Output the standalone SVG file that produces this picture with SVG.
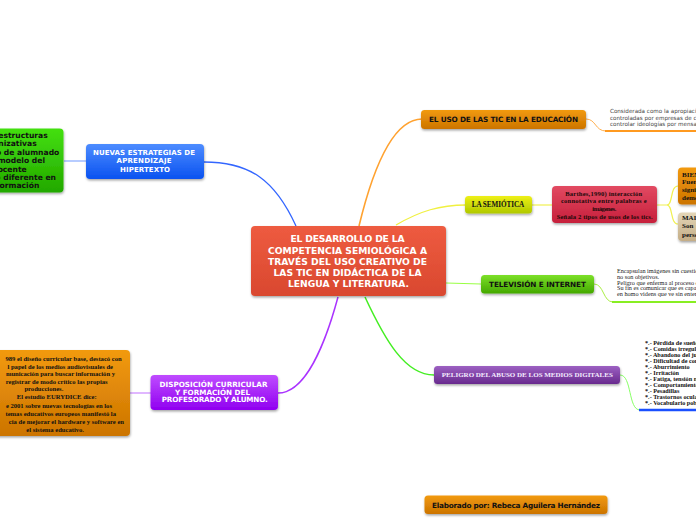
<svg xmlns="http://www.w3.org/2000/svg" width="696" height="520" viewBox="0 0 696 520">
<defs>
<filter id="sh" x="-10%" y="-20%" width="120%" height="150%">
<feDropShadow dx="0.5" dy="1.5" stdDeviation="1.2" flood-color="#000" flood-opacity="0.35"/>
</filter>
<linearGradient id="gRed" x1="0" y1="0" x2="0" y2="1"><stop offset="0" stop-color="#ee5b40"/><stop offset="1" stop-color="#d9482f"/></linearGradient>
<linearGradient id="gBlue" x1="0" y1="0" x2="0" y2="1"><stop offset="0" stop-color="#4d8cff"/><stop offset="1" stop-color="#0a52f0"/></linearGradient>
<linearGradient id="gGreenL" x1="0" y1="0" x2="0" y2="1"><stop offset="0" stop-color="#44e010"/><stop offset="1" stop-color="#22a800"/></linearGradient>
<linearGradient id="gOrange" x1="0" y1="0" x2="0" y2="1"><stop offset="0" stop-color="#f29a10"/><stop offset="1" stop-color="#cc7400"/></linearGradient>
<linearGradient id="gYellow" x1="0" y1="0" x2="0" y2="1"><stop offset="0" stop-color="#eef015"/><stop offset="1" stop-color="#b0c800"/></linearGradient>
<linearGradient id="gCrimson" x1="0" y1="0" x2="0" y2="1"><stop offset="0" stop-color="#e24a62"/><stop offset="1" stop-color="#c61f3b"/></linearGradient>
<linearGradient id="gTan" x1="0" y1="0" x2="0" y2="1"><stop offset="0" stop-color="#e4d6b8"/><stop offset="1" stop-color="#c4ad86"/></linearGradient>
<linearGradient id="gTV" x1="0" y1="0" x2="0" y2="1"><stop offset="0" stop-color="#7ce028"/><stop offset="1" stop-color="#44a800"/></linearGradient>
<linearGradient id="gPurple" x1="0" y1="0" x2="0" y2="1"><stop offset="0" stop-color="#9c60c2"/><stop offset="1" stop-color="#682a8e"/></linearGradient>
<linearGradient id="gViolet" x1="0" y1="0" x2="0" y2="1"><stop offset="0" stop-color="#bf4cff"/><stop offset="1" stop-color="#9000f0"/></linearGradient>
</defs>
<style>
.box{filter:url(#sh);}
.sans{font-family:"DejaVu Sans","Verdana",sans-serif;font-weight:bold;}
.serif{font-family:"Liberation Serif","Times New Roman",serif;font-weight:bold;}
.w{fill:#ffffff;}
.k{fill:#111111;}
.c{text-anchor:middle;}
.e{text-anchor:end;}
.note{font-family:"DejaVu Sans","Verdana",sans-serif;font-size:5.6px;fill:#444444;}
.snote{font-family:"Liberation Serif","Times New Roman",serif;font-size:6.2px;fill:#222222;}
.list{font-family:"Liberation Serif","Times New Roman",serif;font-weight:bold;font-size:6.2px;fill:#111111;}
.ln{fill:none;}
</style>
<rect width="696" height="520" fill="#ffffff"/>

<g id="connectors">
<path class="ln" d="M296,226 C275,180 250,162 204,162" stroke="#3366ff" stroke-width="1.3"/>
<path class="ln" d="M64,161 L86,161" stroke="#88aaff" stroke-width="1.2"/>
<path class="ln" d="M359,226 C375,160 395,119 422,119" stroke="#ffa230" stroke-width="1.6"/>
<path class="ln" d="M396,225 C420,211 440,205 466,205" stroke="#f0f040" stroke-width="1.3"/>
<path class="ln" d="M532,205 L552,205" stroke="#f0f050" stroke-width="1.2"/>
<path class="ln" d="M657,205 L667,205 C673,205 670,186 678,186" stroke="#f0f050" stroke-width="1.2"/>
<path class="ln" d="M667,205 C673,205 670,224 678,224" stroke="#f0f050" stroke-width="1.2"/>
<path class="ln" d="M446,283 L481,284" stroke="#99ff44" stroke-width="1.2"/>
<path class="ln" d="M365,297 C385,340 405,375 434,375" stroke="#44ee22" stroke-width="1.5"/>
<path class="ln" d="M338,297 C325,345 305,393 278,393" stroke="#aa33ff" stroke-width="1.5"/>
<path class="ln" d="M130,393 L151,393" stroke="#cc88ff" stroke-width="1.2"/>
<path class="ln" d="M586,119 C596,119 595,131 606,131" stroke="#ffb050" stroke-width="1"/>
<path class="ln" d="M605,131 L696,131" stroke="#ff9a20" stroke-width="2"/>
<path class="ln" d="M594,284 C604,284 603,302 613,302" stroke="#aaee44" stroke-width="1"/>
<path class="ln" d="M612,302 L696,302" stroke="#88ee22" stroke-width="2"/>
<path class="ln" d="M620,375 C632,375 628,410 640,410" stroke="#88ff66" stroke-width="1"/>
<path class="ln" d="M639,410 L696,410" stroke="#1a4fff" stroke-width="2.5"/>
</g>

<g id="node-center">
<rect class="box" x="251" y="226" width="195" height="70" rx="4" fill="url(#gRed)"/>
<text class="sans w c" font-size="9.2" x="347.5" y="242" textLength="114">EL DESARROLLO DE LA</text>
<text class="sans w c" font-size="9.2" x="347.5" y="253.5" textLength="159">COMPETENCIA SEMIOLÓGICA A</text>
<text class="sans w c" font-size="9.2" x="347.5" y="265" textLength="159">TRAVÉS DEL USO CREATIVO DE</text>
<text class="sans w c" font-size="9.2" x="347.5" y="276" textLength="148">LAS TIC EN DIDÁCTICA DE LA</text>
<text class="sans w c" font-size="9.2" x="348.5" y="287" textLength="121">LENGUA Y LITERATURA.</text>
</g>

<g id="node-nuevas">
<rect class="box" x="86" y="144" width="118" height="35" rx="4" fill="url(#gBlue)"/>
<text class="sans w c" font-size="7" x="144" y="155" textLength="102">NUEVAS ESTRATEGIAS DE</text>
<text class="sans w c" font-size="7" x="144" y="163.3" textLength="55">APRENDIZAJE</text>
<text class="sans w c" font-size="7" x="145" y="171.7" textLength="50">HIPERTEXTO</text>
</g>

<g id="node-estructuras">
<rect class="box" x="-40" y="128.5" width="103.5" height="64" rx="4" fill="url(#gGreenL)"/>
<text class="sans k e" font-size="7.6" x="47.7" y="137.5">s estructuras</text>
<text class="sans k e" font-size="7.6" x="36.7" y="146">anizativas</text>
<text class="sans k e" font-size="7.6" x="59.3" y="155">po de alumnado</text>
<text class="sans k e" font-size="7.6" x="45" y="163.3">modelo del</text>
<text class="sans k e" font-size="7.6" x="26.7" y="171.7">ocente</text>
<text class="sans k e" font-size="7.6" x="56" y="180">io diferente en</text>
<text class="sans k e" font-size="7.6" x="39.3" y="188.3">formación</text>
</g>

<g id="node-uso">
<rect class="box" x="421" y="110" width="165" height="19" rx="3.5" fill="url(#gOrange)"/>
<text class="sans k c" font-size="7.3" x="503.5" y="122" textLength="149">EL USO DE LAS TIC EN LA EDUCACIÓN</text>
</g>

<g id="node-uso-nota">
<text class="note" x="610" y="113">Considerada como la apropiació</text>
<text class="note" x="610" y="119.5">controladas por empresas de c</text>
<text class="note" x="610" y="126">controlar ideologías por mensaj</text>
</g>

<g id="node-semiotica">
<rect class="box" x="465" y="196" width="67" height="17.5" rx="3.5" fill="url(#gYellow)"/>
<text class="serif k c" font-size="7.2" x="498" y="206.8" textLength="52.6">LA SEMIÓTICA</text>
</g>

<g id="node-barthes">
<rect class="box" x="552" y="186" width="105" height="37" rx="4" fill="url(#gCrimson)"/>
<text class="serif c" fill="#1a0a0a" font-size="6.6" x="603.7" y="195.7" textLength="77">Barthes,1990) interacción</text>
<text class="serif c" fill="#1a0a0a" font-size="6.6" x="603.8" y="203.3" textLength="85.7">connotativa entre palabras e</text>
<text class="serif c" fill="#1a0a0a" font-size="6.6" x="604.3" y="211" textLength="24">imágenes.</text>
<text class="serif c" fill="#1a0a0a" font-size="6.6" x="604.7" y="219.3" textLength="96">Señala 2 tipos de usos de los tics.</text>
</g>

<g id="node-bien">
<rect class="box" x="678" y="167.5" width="30" height="37" rx="4" fill="url(#gOrange)"/>
<text class="serif k" font-size="7" x="682" y="176.7">BIEN</text>
<text class="serif k" font-size="7" x="682" y="184.3">Fuen</text>
<text class="serif k" font-size="7" x="682" y="192.3">signi</text>
<text class="serif k" font-size="7" x="682" y="200">demo</text>
</g>

<g id="node-mal">
<rect class="box" x="678" y="212.5" width="30" height="28.5" rx="4" fill="url(#gTan)"/>
<text class="serif k" font-size="7" x="682" y="220">MAL</text>
<text class="serif k" font-size="7" x="682" y="228.3">Son</text>
<text class="serif k" font-size="7" x="682" y="236.7">perso</text>
</g>

<g id="node-tv">
<rect class="box" x="481" y="275" width="113" height="18.5" rx="3.5" fill="url(#gTV)"/>
<text class="sans k c" font-size="7.3" x="537.5" y="287.3" textLength="97">TELEVISIÓN E INTERNET</text>
</g>

<g id="node-tv-nota">
<text class="snote" x="617" y="273">Encapsulan imágenes sin cuestiona</text>
<text class="snote" x="617" y="278.5">no son objetivos.</text>
<text class="snote" x="617" y="284.5">Peligro que enferma al proceso de i</text>
<text class="snote" x="617" y="290">Su fin es comunicar que es capaz d</text>
<text class="snote" x="617" y="295.5">en homo videns que ve sin entende</text>
</g>

<g id="node-peligro">
<rect class="box" x="434" y="366" width="186" height="18" rx="3.5" fill="url(#gPurple)"/>
<text class="serif c" fill="#f4ecff" font-size="7" x="527.3" y="377" textLength="171">PELIGRO DEL ABUSO DE LOS MEDIOS DIGITALES</text>
</g>

<g id="node-peligro-lista">
<text class="list" x="645" y="345.3">*.- Pérdida de sueños</text>
<text class="list" x="645" y="351.3">*.- Comidas irregulare</text>
<text class="list" x="645" y="357.3">*.- Abandono del jueg</text>
<text class="list" x="645" y="363.3">*.- Dificultad de conce</text>
<text class="list" x="645" y="369.3">*.- Aburrimiento</text>
<text class="list" x="645" y="375.3">*.- Irritación</text>
<text class="list" x="645" y="381.3">*.- Fatiga, tensión ner</text>
<text class="list" x="645" y="387.3">*.- Comportamiento a</text>
<text class="list" x="645" y="393.3">*.- Pesadillas</text>
<text class="list" x="645" y="399.3">*.- Trastornos oculare</text>
<text class="list" x="645" y="405.3">*.- Vocabulario pobre</text>
</g>

<g id="node-disposicion">
<rect class="box" x="150.5" y="375" width="127.5" height="35" rx="4" fill="url(#gViolet)"/>
<text class="sans w c" font-size="7.2" x="213.5" y="386.7" textLength="108">DISPOSICIÓN CURRICULAR</text>
<text class="sans w c" font-size="7.2" x="212.5" y="394.5" textLength="75">Y FORMACIÓN DEL</text>
<text class="sans w c" font-size="7.2" x="214.7" y="402.3" textLength="106">PROFESORADO Y ALUMNO.</text>
</g>

<g id="node-curricular">
<rect class="box" x="-40" y="350" width="170" height="86" rx="4" fill="url(#gOrange)"/>
<text class="serif k e" font-size="6.6" x="121.7" y="361">989 el diseño curricular base, destacó con</text>
<text class="serif k e" font-size="6.6" x="113" y="368.6">l papel de los medios audiovisuales de</text>
<text class="serif k e" font-size="6.6" x="115" y="376.2">municación para buscar información y</text>
<text class="serif k e" font-size="6.6" x="107.7" y="383.6">registrar de modo crítico las propias</text>
<text class="serif k e" font-size="6.6" x="63.3" y="391.2">producciones.</text>
<text class="serif k e" font-size="6.6" x="96.7" y="399.3">El estudio EURYDICE dice:</text>
<text class="serif k e" font-size="6.6" x="112" y="407.7">e 2001 sobre nuevas tecnologías en los</text>
<text class="serif k e" font-size="6.6" x="116" y="416">temas educativos europeos manifestó la</text>
<text class="serif k e" font-size="6.6" x="124" y="423.6">cia de mejorar el hardware y software en</text>
<text class="serif k e" font-size="6.6" x="84" y="431.6">el sistema educativo.</text>
</g>

<g id="node-autor">
<rect class="box" x="424.5" y="495.5" width="183" height="18.5" rx="3.5" fill="url(#gOrange)"/>
<text class="sans k c" font-size="7.3" x="516" y="507.5" textLength="168">Elaborado por: Rebeca Aguilera Hernández</text>
</g>
</svg>
